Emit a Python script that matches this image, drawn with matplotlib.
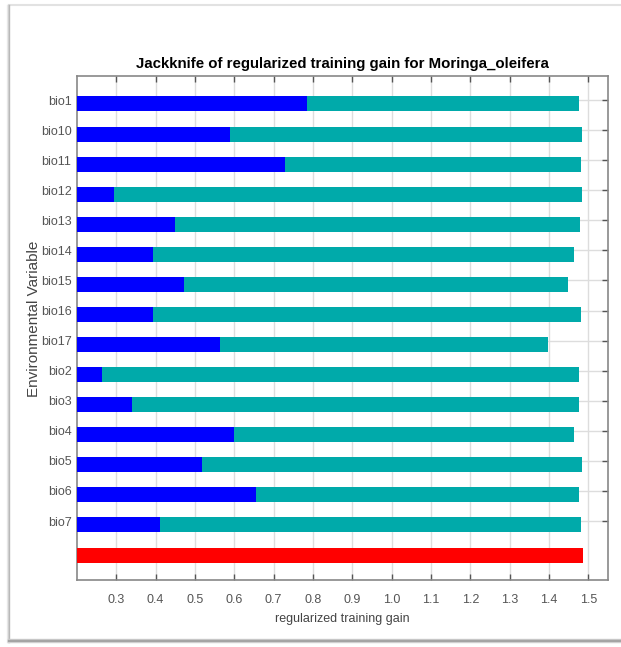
import numpy as np
import matplotlib
matplotlib.use("Agg")
import matplotlib.pyplot as plt
from matplotlib.lines import Line2D

plt.rcParams['font.family'] = ['Liberation Sans', 'DejaVu Sans']

# Jackknife results (top to bottom)
variables = ["bio1", "bio10", "bio11", "bio12", "bio13", "bio14", "bio15", "bio16",
             "bio17", "bio2", "bio3", "bio4", "bio5", "bio6", "bio7"]
gain_without = [1.475, 1.485, 1.482, 1.485, 1.480, 1.464, 1.448, 1.482,
                1.397, 1.475, 1.476, 1.464, 1.485, 1.475, 1.482]
gain_only = [0.784, 0.589, 0.728, 0.294, 0.449, 0.393, 0.472, 0.393,
             0.563, 0.264, 0.339, 0.600, 0.517, 0.654, 0.410]
gain_all = 1.486

x_ticks = [0.3, 0.4, 0.5, 0.6, 0.7, 0.8, 0.9, 1.0, 1.1, 1.2, 1.3, 1.4, 1.5]

W, H = 621, 647
fig = plt.figure(figsize=(W / 100, H / 100), dpi=100)


def px_line(x0, y0, x1, y1, color, lw=1.0):
    # line in pixel coordinates measured from the top-left corner
    fig.add_artist(Line2D([x0 / W, x1 / W], [1 - y0 / H, 1 - y1 / H],
                          transform=fig.transFigure, color=color, linewidth=lw, zorder=-1))


# picture frame with a soft shadow on the left and bottom
px_line(9, 5, W, 5, "#e2e2e2", 1.5)
for k, c in enumerate(["#ececec", "#d4d4d4", "#b8b8b8"]):
    px_line(7 + k, 5, 7 + k, 642, c, 1.0)
for k, c in enumerate(["#cfcfcf", "#a8a8a8", "#9a9a9a", "#d0d0d0"]):
    px_line(8, 639 + k, W, 639 + k, c, 1.0)

ax = fig.add_axes([77 / W, 1 - 580 / H, 531 / W, 504 / H])
ax.set_zorder(1)

n = len(variables)
ypos = np.arange(n, 0, -1)

ax.barh(ypos, [g - 0.2 for g in gain_without], left=0.2, height=0.5, color="#00aaaa", zorder=2)
ax.barh(ypos, [g - 0.2 for g in gain_only], left=0.2, height=0.5, color="#0000ff", zorder=3)
ax.barh([0], [gain_all - 0.2], left=0.2, height=0.5, color="#ff0000", zorder=3)

ax.set_xlim(0.2, 1.55)
ax.set_ylim(-0.83, n + 0.93)
ax.set_xticks(x_ticks)
ax.set_xticklabels([f"{v:.1f}" for v in x_ticks])
ax.set_yticks(ypos + 0.13)
ax.set_yticklabels(variables)

ax.grid(True, color="#dddddd", linewidth=1.0, zorder=0)
ax.set_axisbelow(True)
ax.tick_params(axis="x", direction="in", top=True, bottom=True, length=4, width=1,
               color="#555555", labelcolor="#555555", labelsize=9, pad=10)
ax.tick_params(axis="y", direction="in", left=False, right=True, length=4, width=1,
               color="#555555", labelcolor="#555555", labelsize=9, pad=4)
for sp in ax.spines.values():
    sp.set_color("#888888")
    sp.set_linewidth(1.2)

ax.set_title("Jackknife of regularized training gain for Moringa_oleifera",
             fontsize=10.8, fontweight="bold", pad=6)
ax.set_xlabel("regularized training gain", fontsize=9, color="#444444", labelpad=5)
ax.set_ylabel("Environmental Variable", fontsize=11, color="#444444", labelpad=2)
ax.yaxis.set_label_coords(-0.068, 0.518)

fig.savefig("out.png", dpi=100)
